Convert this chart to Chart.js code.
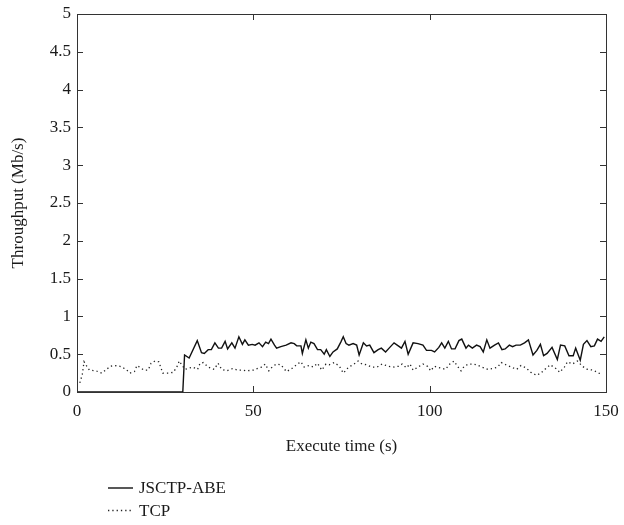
<!DOCTYPE html>
<html>
<head>
<meta charset="utf-8">
<script src="https://cdn.jsdelivr.net/npm/chart.js@4.4.1/dist/chart.umd.min.js"></script>
<style>
  html, body { margin: 0; padding: 0; background: #fff; }
  .chart { position: relative; width: 624px; height: 525px; }
</style>
</head>
<body>
<div class="chart"><canvas id="chart__canvas"></canvas></div>
<script>
// [time (s), throughput (Mb/s)]
const jsctpPoints = [[0,0],[30,0],[30.5,0.49],[31.8,0.45],[34.1,0.68],[35.3,0.52],[36.1,0.51],[37.2,0.56],[38.1,0.56],[39.1,0.65],
  [40.1,0.58],[41,0.58],[42,0.67],[42.7,0.57],[43.9,0.65],[44.8,0.58],[45.9,0.73],[46.9,0.63],[47.6,0.69],[48.6,0.62],
  [49.7,0.63],[50.5,0.62],[51.6,0.65],[52.6,0.60],[53.5,0.66],[54.3,0.64],[55,0.70],[56,0.62],[56.6,0.58],[57.8,0.60],
  [59.3,0.62],[60.7,0.65],[61.6,0.64],[62.3,0.61],[63.5,0.61],[63.9,0.51],[64.9,0.69],[65.6,0.58],[66.3,0.66],[67.2,0.64],
  [68.2,0.56],[69.1,0.56],[70.1,0.50],[70.7,0.56],[71.7,0.47],[72.6,0.53],[73.8,0.57],[74.8,0.66],[75.5,0.73],[76.3,0.64],
  [77.1,0.62],[78.3,0.64],[79.3,0.62],[80,0.49],[81.2,0.65],[82.1,0.61],[83,0.62],[84.2,0.52],[85.4,0.56],[86.3,0.58],
  [87.5,0.53],[88.7,0.59],[89.9,0.65],[91.1,0.61],[92,0.58],[93,0.67],[93.9,0.50],[95.3,0.65],[96.7,0.64],[98.1,0.62],
  [99.1,0.55],[100.5,0.55],[101.4,0.53],[102.6,0.59],[103.4,0.65],[104.3,0.58],[105.3,0.67],[106.2,0.57],[107.2,0.57],[108.3,0.68],
  [109.1,0.70],[110.3,0.58],[111,0.62],[112.1,0.58],[113.3,0.62],[114.3,0.60],[115.2,0.53],[116.2,0.69],[117.1,0.58],[118.4,0.62],
  [119.5,0.65],[120.5,0.56],[121.4,0.57],[122.6,0.62],[123.5,0.60],[124.5,0.62],[125.7,0.62],[126.9,0.65],[128,0.69],[129.3,0.49],
  [130.4,0.55],[131.4,0.63],[132.3,0.48],[133.3,0.51],[134.7,0.59],[136.2,0.43],[137.1,0.62],[138.3,0.61],[139.5,0.48],[140.7,0.48],
  [141.4,0.58],[142.7,0.42],[143.6,0.63],[144.6,0.68],[145.7,0.60],[146.7,0.61],[147.6,0.70],[148.6,0.67],[149.5,0.73]];

const tcpPoints = [[0.8,0.12],[1.5,0.23],[2,0.40],[2.5,0.36],[3.5,0.29],[5.4,0.28],[7,0.25],[8.4,0.30],[9.4,0.34],[10.8,0.35],
  [12.2,0.34],[13.9,0.30],[15,0.25],[16.3,0.27],[17,0.35],[17.7,0.33],[19,0.29],[20.2,0.29],[21,0.38],[22.1,0.41],
  [23.2,0.40],[23.8,0.32],[24.3,0.25],[26.1,0.25],[27.3,0.26],[28.3,0.33],[29,0.41],[29.7,0.36],[30.6,0.30],[32.8,0.33],
  [34.2,0.30],[34.9,0.38],[35.8,0.39],[37.2,0.33],[38.9,0.30],[40,0.38],[41,0.30],[42.4,0.28],[44.1,0.31],[45.6,0.29],
  [47,0.29],[48.1,0.28],[50,0.29],[52.3,0.33],[53.4,0.37],[54.4,0.28],[55.5,0.34],[56.6,0.37],[57.8,0.36],[59.4,0.27],
  [60.9,0.31],[62.5,0.37],[63.5,0.40],[64.4,0.33],[65.8,0.35],[67,0.33],[68.2,0.38],[69.4,0.29],[70.6,0.37],[71.5,0.36],
  [73,0.39],[74.4,0.34],[75.5,0.25],[76.3,0.29],[77,0.33],[78.3,0.36],[79.7,0.41],[80.8,0.37],[82.1,0.36],[83.5,0.33],
  [85.1,0.33],[86.5,0.37],[88.3,0.34],[89.9,0.33],[91.1,0.34],[92.2,0.37],[93.4,0.32],[94.4,0.37],[95.3,0.29],[96.7,0.33],
  [98.1,0.37],[99.4,0.34],[100.3,0.28],[101.3,0.34],[102.9,0.32],[104.5,0.30],[105.7,0.37],[106.9,0.41],[107.9,0.34],[108.9,0.28],
  [109.8,0.34],[111,0.37],[112.1,0.37],[113.3,0.36],[114.8,0.33],[116.5,0.30],[117.9,0.31],[119.3,0.33],[120.3,0.39],[121.6,0.36],
  [123.1,0.33],[124.7,0.30],[125.9,0.35],[127.3,0.32],[128.7,0.26],[130.3,0.22],[131.5,0.25],[132.7,0.30],[134.2,0.36],[135.8,0.31],
  [136.9,0.26],[138.2,0.33],[139.1,0.40],[140.5,0.37],[141.9,0.41],[143.3,0.34],[144.7,0.30],[146.3,0.29],[148,0.25],[149,0.23]];

const seriesNames = ['JSCTP-ABE', 'TCP'];
const xTicks = [0, 50, 100, 150];
const yTicks = [0, 0.5, 1, 1.5, 2, 2.5, 3, 3.5, 4, 4.5, 5];

const FONT = '"Liberation Serif", "DejaVu Serif", serif';
const INK = '#1a1a1a';

// box around the plot with inward tick marks on all four sides
const framePlugin = {
  id: 'frame',
  afterDraw(chart) {
    const {ctx, chartArea: a, scales} = chart;
    ctx.save();
    ctx.strokeStyle = '#333';
    ctx.lineWidth = 1;
    ctx.strokeRect(a.left + 0.5, a.top + 0.5, a.right - a.left, a.bottom - a.top);
    ctx.beginPath();
    xTicks.forEach(v => {
      const x = Math.round(scales.x.getPixelForValue(v)) + 0.5;
      ctx.moveTo(x, a.bottom); ctx.lineTo(x, a.bottom - 6);
      ctx.moveTo(x, a.top); ctx.lineTo(x, a.top + 6);
    });
    yTicks.forEach(v => {
      const y = Math.round(scales.y.getPixelForValue(v)) + 0.5;
      ctx.moveTo(a.left, y); ctx.lineTo(a.left + 6, y);
      ctx.moveTo(a.right, y); ctx.lineTo(a.right - 6, y);
    });
    ctx.stroke();

    // legend stacked under the axis title
    chart.data.datasets.forEach((ds, i) => {
      const y = 488 + i * 22.5;
      ctx.beginPath();
      ctx.setLineDash(ds.borderDash || []);
      ctx.lineWidth = ds.borderWidth;
      ctx.strokeStyle = ds.borderColor;
      ctx.moveTo(108, y); ctx.lineTo(133, y);
      ctx.stroke();
      ctx.setLineDash([]);
      ctx.fillStyle = INK;
      ctx.font = '17px ' + FONT;
      ctx.textBaseline = 'middle';
      ctx.fillText(ds.label, 139, y + 1);
    });
    ctx.restore();
  }
};

new Chart(document.getElementById('chart__canvas'), {
  type: 'line',
  data: {
    datasets: [
      {
        label: seriesNames[0],
        data: jsctpPoints.map(p => ({x: p[0], y: p[1]})),
        borderColor: '#111',
        borderWidth: 1.4,
        pointRadius: 0,
        tension: 0,
      },
      {
        label: seriesNames[1],
        data: tcpPoints.map(p => ({x: p[0], y: p[1]})),
        borderColor: '#222',
        borderWidth: 1.3,
        borderDash: [1.3, 3],
        pointRadius: 0,
        tension: 0,
      },
    ]
  },
  options: {
    animation: false,
    responsive: true,
    maintainAspectRatio: false,
    events: [],
    layout: { padding: { top: 14, right: 18, bottom: 63, left: 0 } },
    plugins: { legend: { display: false }, tooltip: { enabled: false } },
    scales: {
      x: {
        type: 'linear',
        min: 0,
        max: 150,
        afterBuildTicks: s => { s.ticks = xTicks.map(v => ({value: v})); },
        afterFit: s => { s.height = 70; s.paddingLeft = 0; s.paddingRight = 0; },
        grid: { display: false, drawTicks: false },
        border: { display: false },
        ticks: { color: INK, padding: 9, font: { family: FONT, size: 17 }, maxRotation: 0, callback: v => String(v) },
        title: { display: true, text: 'Execute time (s)', color: INK, padding: { bottom: 5 }, font: { family: FONT, size: 17 } },
      },
      y: {
        min: 0,
        max: 5,
        afterBuildTicks: s => { s.ticks = yTicks.map(v => ({value: v})); },
        afterFit: s => { s.width = 77; s.paddingTop = 0; s.paddingBottom = 0; },
        grid: { display: false, drawTicks: false },
        border: { display: false },
        ticks: { color: INK, padding: 6, font: { family: FONT, size: 17 }, callback: v => String(v) },
        title: { display: true, text: 'Throughput (Mb/s)', color: INK, padding: { top: 8 }, font: { family: FONT, size: 17 } },
      },
    },
  },
  plugins: [framePlugin],
});
</script>
</body>
</html>
